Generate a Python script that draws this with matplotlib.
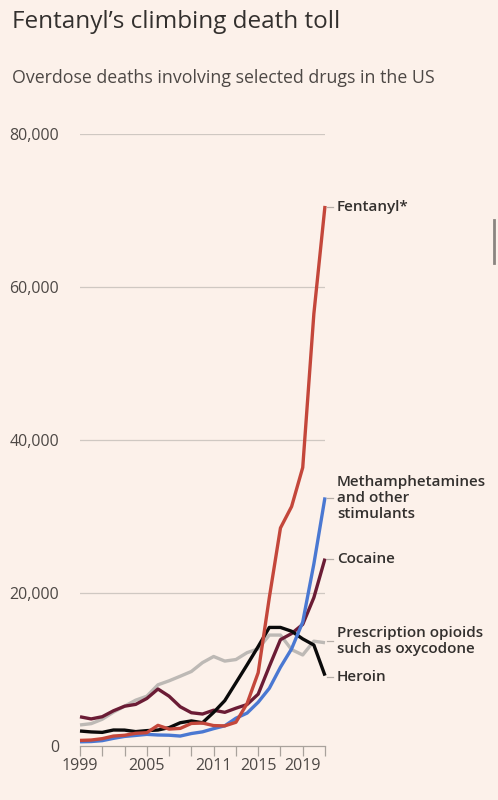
import matplotlib
matplotlib.use('Agg')
import matplotlib.pyplot as plt
from matplotlib.lines import Line2D

matplotlib.rcParams['font.family'] = ['Open Sans', 'DejaVu Sans']

years = list(range(1999, 2022))

# deaths per year
fentanyl = [730, 780, 960, 1300, 1400, 1660, 1740, 2700, 2210, 2300, 2950, 3000,
            2670, 2630, 3100, 5540, 9580, 19400, 28500, 31300, 36400, 56500, 70600]
meth = [550, 580, 700, 1000, 1250, 1380, 1520, 1440, 1410, 1300, 1630, 1850,
        2270, 2640, 3630, 4300, 5720, 7540, 10300, 12700, 16200, 23800, 32500]
cocaine = [3820, 3540, 3830, 4600, 5200, 5440, 6210, 7450, 6510, 5130, 4350, 4180,
           4680, 4400, 4940, 5420, 6780, 10400, 13900, 14700, 15900, 19400, 24500]
rx_opioids = [2750, 2920, 3500, 4420, 5200, 5990, 6510, 8000, 8520, 9120, 9740, 10900,
              11700, 11100, 11300, 12200, 12700, 14500, 14500, 12600, 11900, 13700, 13500]
heroin = [1960, 1840, 1780, 2090, 2080, 1880, 2010, 2090, 2400, 3040, 3280, 3040,
          4400, 5930, 8260, 10600, 13000, 15500, 15500, 15000, 14000, 13200, 9200]

series = [
    ('Prescription opioids\nsuch as oxycodone', rx_opioids, '#bdb9b5', 641),
    ('Cocaine', cocaine, '#6b1c35', 559),
    ('Heroin', heroin, '#0a0a0a', 677),
    ('Methamphetamines\nand other\nstimulants', meth, '#4a78d2', 498),
    ('Fentanyl*', fentanyl, '#c4473b', 207),
]

yticks = [0, 20000, 40000, 60000, 80000]
ytick_labels = ['0', '20,000', '40,000', '60,000', '80,000']
xticks = list(range(1999, 2022, 2))
xtick_labels = ['1999', '', '', '2005', '', '', '2011', '', '2015', '', '2019', '']

bg = '#fcf1ea'
fig = plt.figure(figsize=(4.98, 8), dpi=100, facecolor=bg)
ax = fig.add_axes([80/498, 54/800, 245/498, 612/800])
ax.set_facecolor(bg)

ax.set_xlim(1999, 2021)
ax.set_ylim(0, 80000)

for v in yticks[1:]:
    ax.axhline(v, color='#cfc8c2', lw=0.9, zorder=1)

for name, vals, col, ly in series:
    ax.plot(years, vals, color=col, lw=2.4, solid_joinstyle='round',
            solid_capstyle='butt', zorder=3, clip_on=False)

for s in ['top', 'right', 'left']:
    ax.spines[s].set_visible(False)
ax.spines['bottom'].set_color('#a9a29c')
ax.spines['bottom'].set_linewidth(0.9)

ax.set_xticks(xticks)
ax.set_xticklabels(xtick_labels)
ax.set_yticks(yticks)
ax.set_yticklabels(ytick_labels)
ax.tick_params(axis='x', length=7, width=0.9, color='#a9a29c', labelsize=11.5,
               labelcolor='#4d4845', pad=2)
ax.tick_params(axis='y', length=0, labelsize=11.5, labelcolor='#4d4845', pad=15)

# end labels with small leader dashes
for name, vals, col, ly in series:
    yf = 1 - ly/800
    fig.add_artist(Line2D([327/498, 333/498], [yf, yf], color='#b5aea8', lw=0.9))
    fig.text(337/498, yf, name, fontsize=11, fontweight='semibold', color='#33302e',
             va='center', ha='left', linespacing=1.15)

fig.text(12/498, 1 - 22/800, "Fentanyl\u2019s climbing death toll", fontsize=17.5,
         color='#33302e', va='center', ha='left')
fig.text(12/498, 1 - 78/800, "Overdose deaths involving selected drugs in the US",
         fontsize=12.8, color='#4d4845', va='center', ha='left')

# scroll bar sliver at the right edge of the screenshot
fig.add_artist(Line2D([494/498, 494/498], [1 - 220/800, 1 - 263/800],
                      color='#8a8580', lw=2))

fig.savefig('out.png', dpi=100, facecolor=bg)
